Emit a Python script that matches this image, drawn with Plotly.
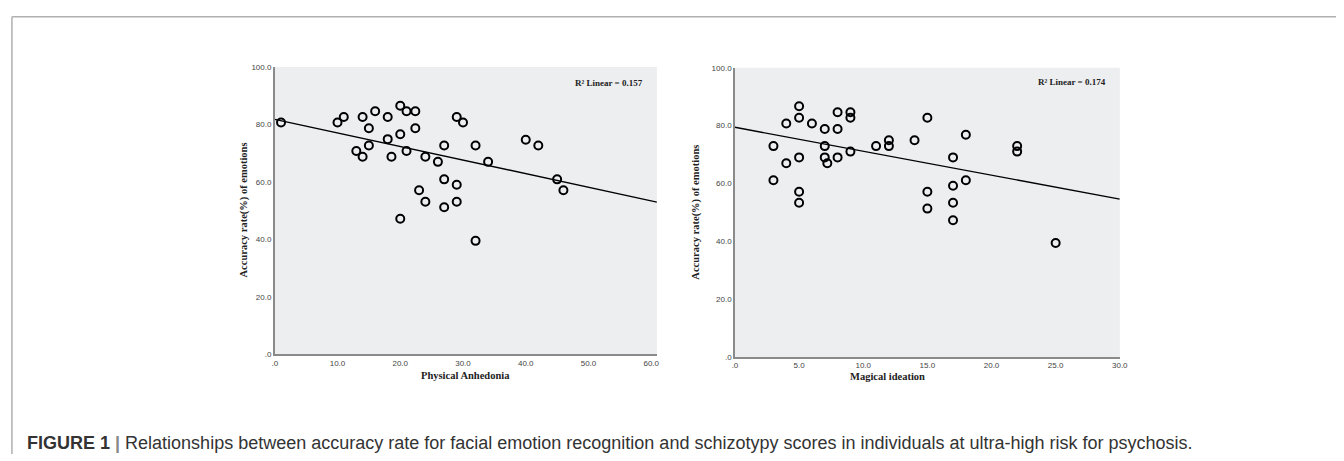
import plotly.graph_objects as go

W, H = 1344, 461

# ---------------- data ----------------
anhedonia_x = [1, 10, 11, 14, 16, 18, 20, 21, 22.4, 15, 22.4, 18, 20, 13, 14, 15, 18.6, 21, 24,
               26, 27, 29, 30, 32, 34, 23, 24, 27, 29, 27, 29, 20, 32, 40, 42, 45, 46]
anhedonia_y = [80.7, 80.7, 82.6, 82.6, 84.6, 82.6, 86.5, 84.6, 84.6, 78.7, 78.7, 74.9, 76.6,
               70.8, 68.8, 72.7, 68.8, 70.8, 68.8, 67.0, 72.7, 82.6, 80.7, 72.7, 67.0,
               57.1, 53.1, 60.9, 59.0, 51.2, 53.1, 47.2, 39.5, 74.7, 72.7, 60.9, 57.1]
magical_x = [3, 3, 4, 4, 5, 5, 5, 5, 5, 6, 7, 7, 7, 7.2, 8, 8, 8, 9, 9, 9, 11, 12, 12, 14,
             15, 15, 15, 17, 17, 17, 17, 18, 18, 22, 22, 25]
magical_y = [72.9, 61.1, 80.7, 67.0, 86.7, 82.7, 69.0, 57.1, 53.3, 80.7, 78.8, 72.9, 69.0,
             67.0, 84.6, 78.8, 69.0, 84.6, 82.7, 71.0, 72.9, 74.9, 72.9, 74.9, 82.7, 57.1,
             51.3, 69.0, 59.2, 53.3, 47.3, 76.8, 61.1, 72.9, 71.0, 39.4]

# fitted lines
anhedonia_fit = {"intercept": 81.8, "slope": -0.473}
magical_fit = {"intercept": 79.4, "slope": -0.827}
anhedonia_r2 = "0.157"
magical_r2 = "0.174"

left_xticks = [0, 10, 20, 30, 40, 50, 60]
left_xtext = [".0", "10.0", "20.0", "30.0", "40.0", "50.0", "60.0"]
right_xticks = [0, 5, 10, 15, 20, 25, 30]
right_xtext = [".0", "5.0", "10.0", "15.0", "20.0", "25.0", "30.0"]
yticks = [0, 20, 40, 60, 80, 100]
ytext = [".0", "20.0", "40.0", "60.0", "80.0", "100.0"]

left_xrange = [0, 60.9]
right_xrange = [0, 30]

y_title = "Accuracy rate(%) of emotions"
left_x_title = "Physical Anhedonia"
right_x_title = "Magical ideation"
caption_bold = "FIGURE 1"
caption_text = ("Relationships between accuracy rate for facial emotion recognition and schizotypy "
                "scores in individuals at ultra-high risk for psychosis.")

# ---------------- helpers ----------------
def px(x):
    return x / W

def py(y):
    return 1 - y / H

BG = "#EDEEF0"
AXIS = "#8a8a8a"
TICKFONT = dict(family="Liberation Sans, Arial", size=8, color="#444444")
SERIF = "Liberation Serif, Times New Roman"

fig = go.Figure()

marker = dict(symbol="circle-open", size=8, color="black", line=dict(width=2, color="black"))

fig.add_trace(go.Scatter(x=anhedonia_x, y=anhedonia_y, mode="markers", marker=marker,
                         xaxis="x", yaxis="y", showlegend=False))
lx = left_xrange
fig.add_trace(go.Scatter(x=lx, y=[anhedonia_fit["intercept"] + anhedonia_fit["slope"] * v for v in lx],
                         mode="lines", line=dict(color="black", width=1.4),
                         xaxis="x", yaxis="y", showlegend=False))

fig.add_trace(go.Scatter(x=magical_x, y=magical_y, mode="markers", marker=marker,
                         xaxis="x2", yaxis="y2", showlegend=False))
rx = right_xrange
fig.add_trace(go.Scatter(x=rx, y=[magical_fit["intercept"] + magical_fit["slope"] * v for v in rx],
                         mode="lines", line=dict(color="black", width=1.4),
                         xaxis="x2", yaxis="y2", showlegend=False))

def xax(domain, rng, tv, tt, anchor):
    return dict(domain=domain, range=rng, tickvals=tv, ticktext=tt, showgrid=False, zeroline=False,
                showline=True, linecolor=AXIS, linewidth=1.5, ticks="", tickfont=TICKFONT,
                anchor=anchor, fixedrange=True)

def yax(domain, anchor):
    return dict(domain=domain, range=[0, 100], tickvals=yticks, ticktext=ytext, showgrid=False,
                zeroline=False, showline=True, linecolor=AXIS, linewidth=1.5, ticks="",
                tickfont=TICKFONT, anchor=anchor, fixedrange=True)

fig.update_layout(
    width=W, height=H, margin=dict(l=0, r=0, t=0, b=0),
    paper_bgcolor="white", plot_bgcolor="white",
    xaxis=xax([px(274), px(659.3)], left_xrange, left_xticks, left_xtext, "y"),
    yaxis=yax([py(357.3), py(64.3)], "x"),
    xaxis2=xax([px(738), px(1126)], right_xrange, right_xticks, right_xtext, "y2"),
    yaxis2=yax([py(360), py(65)], "x2"),
)

# grey plot areas
for xr, yr in (("x", "y"), ("x2", "y2")):
    fig.add_shape(type="rect", xref=xr + " domain", yref=yr + " domain", x0=0, x1=1, y0=0, y1=1,
                  fillcolor=BG, line=dict(width=0), layer="below")

ann = []
# R² labels
ann.append(dict(x=53.2, y=94.5, xref="x", yref="y", text="<b>R² Linear = " + anhedonia_r2 + "</b>",
                showarrow=False, font=dict(family=SERIF, size=9, color="#222")))
ann.append(dict(x=26.3, y=94.9, xref="x2", yref="y2", text="<b>R² Linear = " + magical_r2 + "</b>",
                showarrow=False, font=dict(family=SERIF, size=9, color="#222")))
# axis titles
ann.append(dict(x=px(466.5), y=py(387), xref="paper", yref="paper", text="<b>" + left_x_title + "</b>",
                showarrow=False, font=dict(family=SERIF, size=10.5, color="#222")))
ann.append(dict(x=px(932), y=py(388), xref="paper", yref="paper", text="<b>" + right_x_title + "</b>",
                showarrow=False, font=dict(family=SERIF, size=10.5, color="#222")))
ann.append(dict(x=px(235), y=py(210.5), xref="paper", yref="paper", text="<b>" + y_title + "</b>",
                textangle=-90, showarrow=False, font=dict(family=SERIF, size=10.5, color="#222")))
ann.append(dict(x=px(699), y=py(212.5), xref="paper", yref="paper", text="<b>" + y_title + "</b>",
                textangle=-90, showarrow=False, font=dict(family=SERIF, size=10.5, color="#222")))
# caption
ann.append(dict(x=px(22), y=py(448), xref="paper", yref="paper", xanchor="left", yanchor="middle",
                text="<b>" + caption_bold + "</b> <span style='color:#888'><b>|</b></span> " + caption_text,
                showarrow=False, font=dict(family="Liberation Sans, Arial", size=18, color="#333")))
fig.update_layout(annotations=ann)

# frame lines (top and left)
fig.add_shape(type="line", xref="paper", yref="paper", x0=px(9), x1=1, y0=py(13), y1=py(13),
              line=dict(color="#b0b0b0", width=1.5))
fig.add_shape(type="line", xref="paper", yref="paper", x0=px(9), x1=px(9), y0=py(13), y1=py(459),
              line=dict(color="#b0b0b0", width=1.5))

fig.write_html("out.html", config={"displayModeBar": False},
               post_script="document.body.style.margin='0';document.body.style.overflow='hidden';")
